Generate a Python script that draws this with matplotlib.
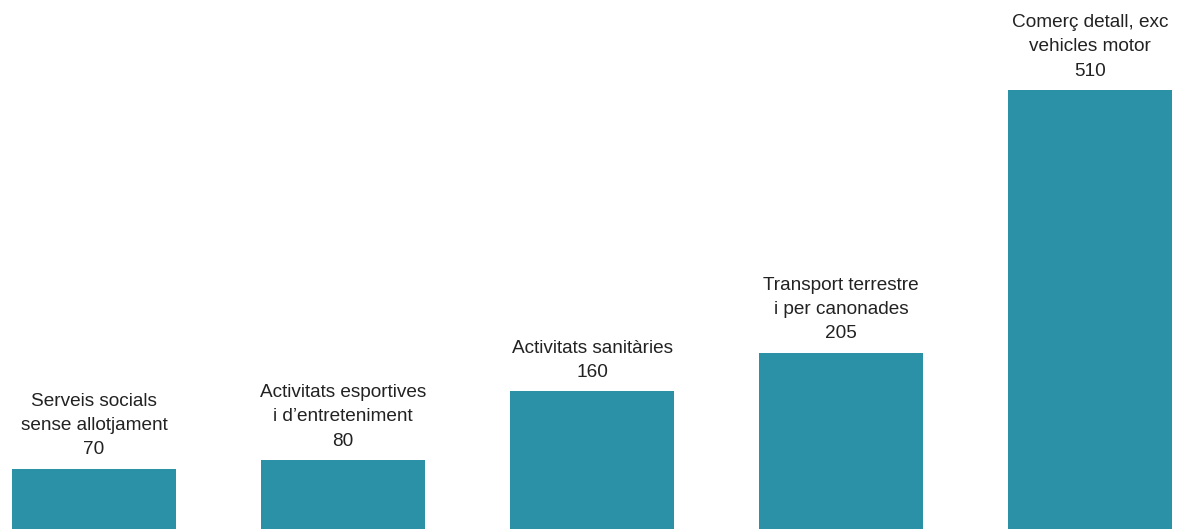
import matplotlib.pyplot as plt

plt.rcParams['font.family'] = ['Liberation Sans', 'DejaVu Sans']

categories = [
    "Serveis socials\nsense allotjament",
    "Activitats esportives\ni d\u2019entreteniment",
    "Activitats sanit\u00e0ries",
    "Transport terrestre\ni per canonades",
    "Comer\u00e7 detall, exc\nvehicles motor",
]
values = [70, 80, 160, 205, 510]

bar_color = '#2b91a6'
text_color = '#222222'

fig = plt.figure(figsize=(11.78, 5.29), dpi=100)
ax = fig.add_axes([0, 0, 1, 1])

x = list(range(len(values)))
ax.bar(x, values, width=0.66, color=bar_color)

for xi, v, name in zip(x, values, categories):
    ax.annotate(f"{name}\n{v}", xy=(xi, v), xytext=(0, 7.5), textcoords='offset points',
                ha='center', va='bottom', fontsize=13.7, color=text_color,
                linespacing=1.56)

ax.set_xlim(-0.3775, 4.353)
ax.set_ylim(0, 614.6)
ax.axis('off')

fig.savefig('out.png', dpi=100)
